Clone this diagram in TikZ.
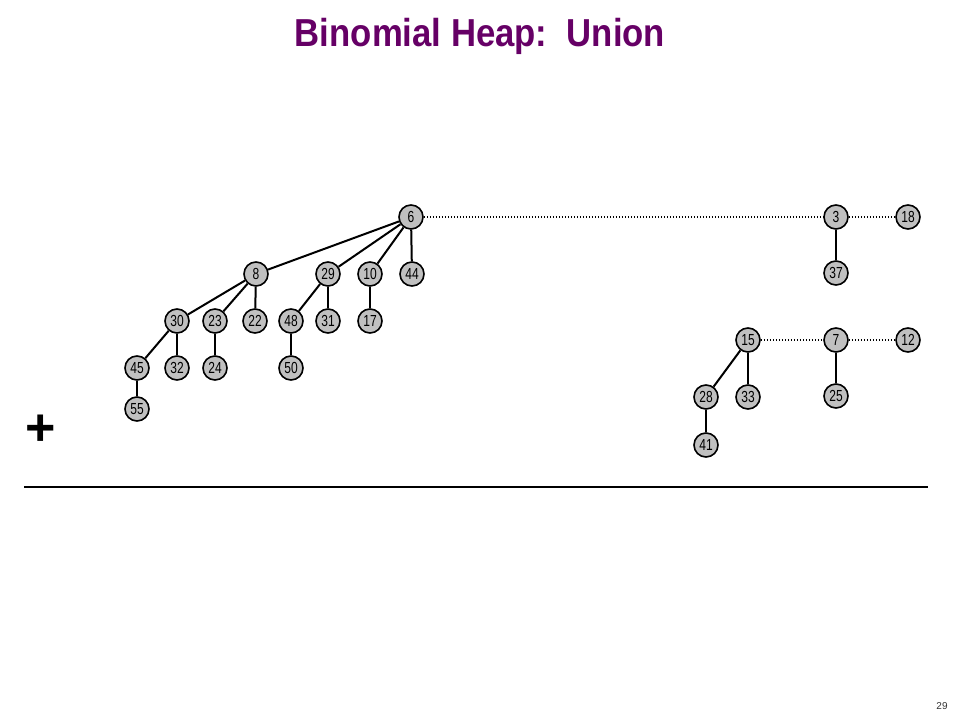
\documentclass[tikz,border=0pt]{standalone}
\usepackage{fontspec}
\setmainfont{Liberation Sans}
\newcommand{\nlab}[1]{\scalebox{0.75}[1]{#1}}
\begin{document}
\begin{tikzpicture}[x=1pt,y=-1pt,
  hn/.style={circle,draw=black,line width=1.6pt,fill=heapgray,minimum size=24pt,inner sep=0pt,
    font=\fontsize{16}{16}\selectfont},
  tedge/.style={line width=2pt},
  link/.style={line width=1.3pt,dash pattern=on 1.3pt off 1.7pt}]
\definecolor{heapgray}{RGB}{192,192,192}
\definecolor{titlepurple}{RGB}{102,0,102}
\useasboundingbox (0,0) rectangle (960,720);
\node[text=titlepurple,font=\fontsize{39}{40}\selectfont\bfseries,anchor=base] (title) at (480,46) {\scalebox{0.89}[1]{Binomial Heap:\ \ Union}};
% first heap
\node[hn] (n6) at (411,217) {\nlab{6}};
\node[hn] (n8) at (256,274) {\nlab{8}};
\node[hn] (n29) at (328,274) {\nlab{29}};
\node[hn] (n10) at (370,274) {\nlab{10}};
\node[hn] (n44) at (412,274) {\nlab{44}};
\node[hn] (n30) at (177,321) {\nlab{30}};
\node[hn] (n23) at (215,321) {\nlab{23}};
\node[hn] (n22) at (255,321) {\nlab{22}};
\node[hn] (n48) at (291,321) {\nlab{48}};
\node[hn] (n31) at (328,321) {\nlab{31}};
\node[hn] (n17) at (370,321) {\nlab{17}};
\node[hn] (n45) at (137,368) {\nlab{45}};
\node[hn] (n32) at (177,368) {\nlab{32}};
\node[hn] (n24) at (215,368) {\nlab{24}};
\node[hn] (n50) at (291,368) {\nlab{50}};
\node[hn] (n55) at (137,409) {\nlab{55}};
\node[hn] (n3) at (836,217) {\nlab{3}};
\node[hn] (n18) at (908,217) {\nlab{18}};
\node[hn] (n37) at (836,273) {\nlab{37}};
% second heap
\node[hn] (n15) at (748,340) {\nlab{15}};
\node[hn] (n7) at (836,340) {\nlab{7}};
\node[hn] (n12) at (908,340) {\nlab{12}};
\node[hn] (n28) at (706,397) {\nlab{28}};
\node[hn] (n33) at (748,397) {\nlab{33}};
\node[hn] (n25) at (836,396) {\nlab{25}};
\node[hn] (n41) at (706,445) {\nlab{41}};
% tree edges
\draw[tedge] (n6) -- (n8);
\draw[tedge] (n6) -- (n29);
\draw[tedge] (n6) -- (n10);
\draw[tedge] (n6) -- (n44);
\draw[tedge] (n8) -- (n30);
\draw[tedge] (n8) -- (n23);
\draw[tedge] (n8) -- (n22);
\draw[tedge] (n29) -- (n48);
\draw[tedge] (n29) -- (n31);
\draw[tedge] (n10) -- (n17);
\draw[tedge] (n30) -- (n45);
\draw[tedge] (n30) -- (n32);
\draw[tedge] (n23) -- (n24);
\draw[tedge] (n48) -- (n50);
\draw[tedge] (n45) -- (n55);
\draw[tedge] (n3) -- (n37);
\draw[tedge] (n15) -- (n28);
\draw[tedge] (n15) -- (n33);
\draw[tedge] (n7) -- (n25);
\draw[tedge] (n28) -- (n41);
% root lists
\draw[link] (n6) -- (n3);
\draw[link] (n3) -- (n18);
\draw[link] (n15) -- (n7);
\draw[link] (n7) -- (n12);
% plus and rule
\node[font=\fontsize{52}{52}\selectfont\bfseries,inner sep=0pt] (plus) at (41,430) {+};
\coordinate (ruleL) at (24,487);
\coordinate (ruleR) at (928,487);
\draw[line width=2.5pt] (ruleL) -- (ruleR);
\node[font=\fontsize{10}{10}\selectfont,text=black!80] (pg) at (942,706) {29};
\end{tikzpicture}
\end{document}
